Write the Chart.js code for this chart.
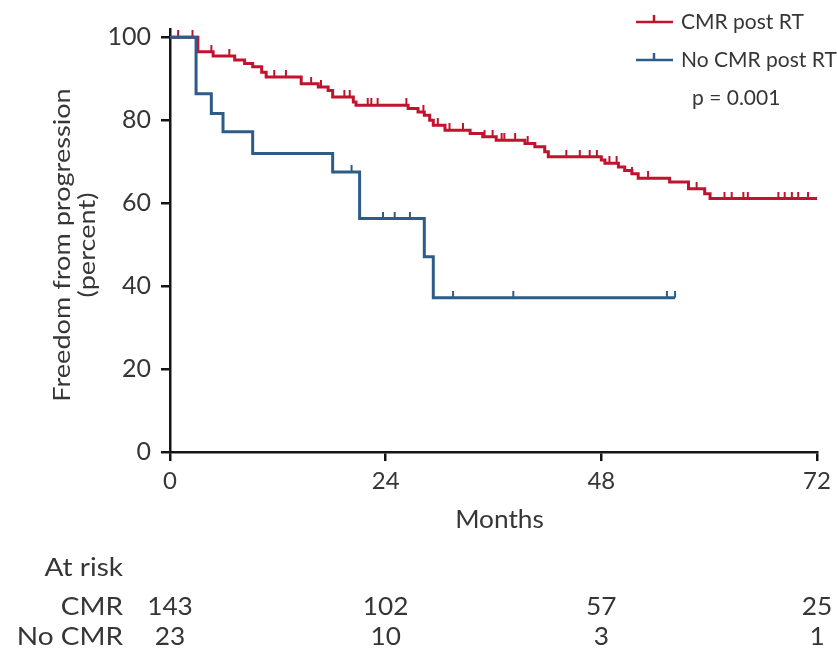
<!DOCTYPE html>
<html>
<head>
<meta charset="utf-8">
<script src="https://cdn.jsdelivr.net/npm/chart.js@4.4.1/dist/chart.umd.min.js"></script>
<style>
  html, body { margin: 0; padding: 0; background: #fff; }
  #wrap { width: 837px; height: 654px; position: relative; }
</style>
</head>
<body>
<div id="wrap"><canvas id="km"></canvas></div>
<script>
// Kaplan-Meier steps: [month, percent free from progression]
const cmrSteps = [
  [0, 100], [3.1, 96.5], [4.8, 95.5], [7.2, 94.5], [8.3, 93.7], [9.2, 92.9],
  [10.2, 91.6], [10.7, 90.4], [14.6, 88.8], [16.5, 88.0], [17.6, 87.2],
  [18.1, 85.6], [20.4, 84.4], [20.7, 83.6], [26.5, 82.8], [27.6, 82.0],
  [28.3, 81.2], [28.9, 80.0], [29.3, 78.8], [30.6, 77.6], [33.4, 76.8],
  [34.8, 76.0], [36.3, 75.2], [39.5, 74.4], [40.6, 73.6], [41.7, 72.4],
  [42.1, 71.2], [48.0, 70.4], [48.4, 69.6], [49.9, 68.7], [50.6, 67.9],
  [51.4, 67.1], [52.1, 66.0], [55.6, 65.1], [57.7, 63.5], [59.5, 62.3],
  [60.1, 61.1], [72, 61.1]
];
const noCmrSteps = [
  [0, 100], [2.9, 86.4], [4.6, 81.6], [5.9, 77.2], [9.2, 72.0], [18.1, 67.5],
  [21.1, 56.3], [28.3, 47.1], [29.3, 37.2], [56.2, 37.2]
];

// censored observations (months)
const cmrCensored = [
  0.9, 2.5, 4.6, 6.6, 11.6, 12.9, 15.7, 16.8, 19.4, 20.0, 22.0, 22.4, 23.1,
  26.3, 28.2, 29.8, 31.1, 32.6, 35.0, 35.9, 36.9, 37.2, 38.4, 39.8, 44.1,
  45.6, 46.7, 47.5, 48.9, 49.7, 51.4, 53.2, 58.6, 61.7, 62.5, 63.8, 64.3,
  67.7, 68.4, 69.2, 69.9, 71.0
];
const noCmrCensored = [20.2, 23.7, 25.0, 26.7, 31.5, 38.2, 55.3, 56.2];

const xTicks = [0, 24, 48, 72];
const yTicks = [0, 20, 40, 60, 80, 100];
const riskLabels = ['CMR', 'No CMR'];
const riskCmr = [143, 102, 57, 25];
const riskNoCmr = [23, 10, 3, 1];
const pValueText = 'p = 0.001';

const RED = '#c0132e';
const BLUE = '#2d5c89';
const AXIS = '#151515';
const TEXT = '#363636';
const FONT = "Lato, 'Noto Sans', sans-serif";

const toPoints = (steps) => steps.map(([x, y]) => ({ x, y }));

// value of a step curve at time t (used to seat the censor ticks on the line)
const valueAt = (steps, t) => {
  let v = steps[0][1];
  for (const [x, y] of steps) {
    if (x <= t) v = y; else break;
  }
  return v;
};

// small upward tick used as the censor marker
const makeTick = (color, len) => {
  const c = document.createElement('canvas');
  c.width = 4;
  c.height = len * 2;
  const g = c.getContext('2d');
  g.strokeStyle = color;
  g.lineWidth = 2;
  g.beginPath();
  g.moveTo(2, 0);
  g.lineTo(2, len);
  g.stroke();
  return c;
};

const redTick = makeTick(RED, 7);
const blueTick = makeTick(BLUE, 7);

// text stretched or squeezed along the baseline
const scaledText = (ctx, text, x, y, size, sx) => {
  ctx.save();
  ctx.translate(x, y);
  ctx.scale(sx, 1);
  ctx.font = `${size}px ${FONT}`;
  ctx.fillText(text, 0, 0);
  ctx.restore();
};

const kmDecor = {
  id: 'kmDecor',
  afterDraw(chart) {
    const { ctx } = chart;
    const xs = chart.scales.x;

    ctx.save();
    ctx.fillStyle = TEXT;

    // legend
    const legendRows = [
      { label: 'CMR post RT', color: RED, y: 22 },
      { label: 'No CMR post RT', color: BLUE, y: 60 }
    ];
    ctx.font = `21px ${FONT}`;
    ctx.textAlign = 'left';
    ctx.textBaseline = 'middle';
    legendRows.forEach((row) => {
      ctx.strokeStyle = row.color;
      ctx.lineWidth = 2.5;
      ctx.beginPath();
      ctx.moveTo(636, row.y);
      ctx.lineTo(673, row.y);
      ctx.moveTo(654, row.y);
      ctx.lineTo(654, row.y - 7);
      ctx.stroke();
      ctx.fillText(row.label, 681, row.y);
    });
    ctx.fillText(pValueText, 692, 98);

    // axis titles
    ctx.textAlign = 'center';
    ctx.textBaseline = 'middle';
    scaledText(ctx, 'Months', (xs.left + xs.right) / 2 + 6, 520, 25, 1.05);

    ctx.save();
    ctx.translate(62, 245);
    ctx.rotate(-Math.PI / 2);
    scaledText(ctx, 'Freedom from progression', 0, 0, 24, 1.13);
    scaledText(ctx, '(percent)', 0, 25, 24, 1.13);
    ctx.restore();

    // numbers at risk
    ctx.textAlign = 'right';
    scaledText(ctx, 'At risk', 123, 568, 25, 1.12);
    scaledText(ctx, riskLabels[0], 123, 607, 25, 1.12);
    scaledText(ctx, riskLabels[1], 123, 637, 25, 1.12);
    ctx.textAlign = 'center';
    xTicks.forEach((m, i) => {
      const px = xs.getPixelForValue(m);
      scaledText(ctx, String(riskCmr[i]), px, 607, 25, 1.05);
      scaledText(ctx, String(riskNoCmr[i]), px, 637, 25, 1.05);
    });

    ctx.restore();
  }
};

new Chart(document.getElementById('km'), {
  type: 'line',
  data: {
    datasets: [
      {
        label: 'No CMR post RT',
        data: toPoints(noCmrSteps),
        borderColor: BLUE,
        borderWidth: 3,
        stepped: 'before',
        pointRadius: 0,
        fill: false
      },
      {
        label: 'CMR post RT',
        data: toPoints(cmrSteps),
        borderColor: RED,
        borderWidth: 3,
        stepped: 'before',
        pointRadius: 0,
        fill: false
      },
      {
        label: 'No CMR censored',
        data: noCmrCensored.map((t) => ({ x: t, y: valueAt(noCmrSteps, t) })),
        showLine: false,
        pointStyle: blueTick,
        pointRadius: 7
      },
      {
        label: 'CMR censored',
        data: cmrCensored.map((t) => ({ x: t, y: valueAt(cmrSteps, t) })),
        showLine: false,
        pointStyle: redTick,
        pointRadius: 7
      }
    ]
  },
  options: {
    responsive: true,
    maintainAspectRatio: false,
    animation: false,
    layout: { padding: { top: 29, right: 20, left: 0, bottom: 0 } },
    plugins: {
      legend: { display: false },
      tooltip: { enabled: false }
    },
    scales: {
      x: {
        type: 'linear',
        min: 0,
        max: 72,
        afterBuildTicks: (scale) => { scale.ticks = xTicks.map((v) => ({ value: v })); },
        afterFit: (scale) => { scale.height = 202; },
        border: { display: true, color: AXIS, width: 2.5 },
        grid: { drawOnChartArea: false, drawTicks: true, tickLength: 9, color: AXIS, lineWidth: 2.5 },
        ticks: { color: TEXT, padding: 6, font: { family: FONT, size: 24 }, maxRotation: 0 }
      },
      y: {
        type: 'linear',
        min: 0,
        max: 102,
        afterBuildTicks: (scale) => { scale.ticks = yTicks.map((v) => ({ value: v })); },
        afterFit: (scale) => { scale.width = 170; },
        border: { display: true, color: AXIS, width: 2.5 },
        grid: { drawOnChartArea: false, drawTicks: true, tickLength: 9, color: AXIS, lineWidth: 2.5 },
        ticks: { color: TEXT, padding: 10, font: { family: FONT, size: 25 } }
      }
    }
  },
  plugins: [kmDecor]
});
</script>
</body>
</html>
